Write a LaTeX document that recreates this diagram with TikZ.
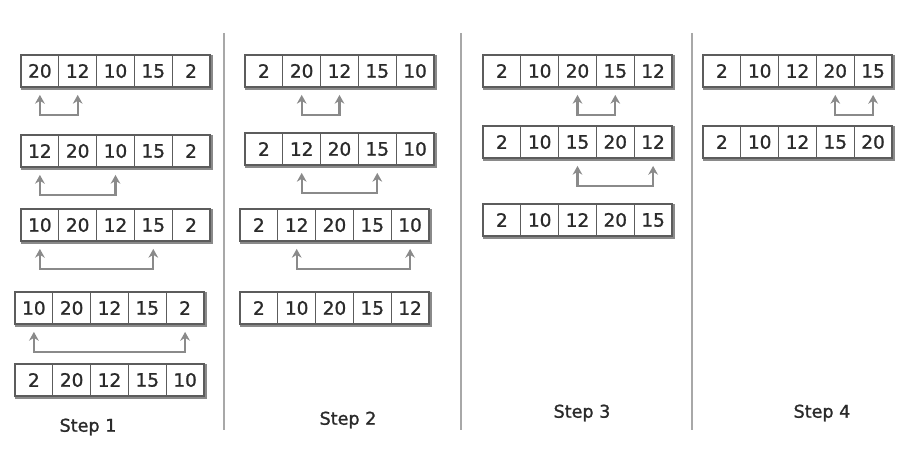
\documentclass[tikz,border=0pt]{standalone}
\usepackage{fontspec}
\setmainfont{DejaVu Sans}
\newfontfamily\cellfont[FakeBold=1.2]{DejaVu Sans}
\usetikzlibrary{arrows.meta}

\definecolor{cellline}{HTML}{5C5C5C}
\definecolor{rimgray}{HTML}{8A8A8A}
\definecolor{digitgray}{HTML}{2A2A2A}
\definecolor{swapgray}{HTML}{8A8A8A}
\definecolor{rulegray}{HTML}{A8A8A8}

% one row of five cells, top left corner at (#2,#3)
\newcommand{\cellrow}[4]{%
  \foreach \v [count=\i] in {#4}
    \node[cell] (#1-\i) at ({#2+(\i-0.5)*37.8},{#3+16}) {\v};
  \draw[rim] ([yshift=-1pt]#1-1.south west) -- ([xshift=1pt,yshift=-1pt]#1-5.south east)
    -- ([xshift=1pt]#1-5.north east);
}
% exchange bracket under two cells of a row
\newcommand{\swapcells}[3]{%
  \draw[swp] ([yshift=-4.5pt]#1-#2.south) -- ++(0,20) -| ([yshift=-4.5pt]#1-#3.south);
}

\begin{document}
\begin{tikzpicture}[x=0.02cm, y=-0.02cm,
    cell/.style={draw=cellline, fill=white, line width=0.6pt, minimum width=0.756cm,
      minimum height=0.64cm, inner sep=0pt, outer sep=0pt,
      font=\cellfont\fontsize{10.5}{12}\selectfont, text=digitgray},
    rim/.style={draw=rimgray, line width=1.2pt},
    swp/.style={{Stealth[length=5pt,width=5.5pt]}-{Stealth[length=5pt,width=5.5pt]}, draw=swapgray, line width=1.3pt},
    divider/.style={draw=rulegray, line width=1.2pt},
    steplabel/.style={font=\cellfont\fontsize{10}{12}\selectfont, text=digitgray},
  ]
  \useasboundingbox (0,0) rectangle (910,456);

  % step 1
  \cellrow{s1a}{21}{55}{20,12,10,15,2}
  \swapcells{s1a}{1}{2}
  \cellrow{s1b}{21}{135}{12,20,10,15,2}
  \swapcells{s1b}{1}{3}
  \cellrow{s1c}{21}{209}{10,20,12,15,2}
  \swapcells{s1c}{1}{4}
  \cellrow{s1d}{15}{292}{10,20,12,15,2}
  \swapcells{s1d}{1}{5}
  \cellrow{s1e}{15}{364}{2,20,12,15,10}
  \node[steplabel] (lab1) at (88,427) {Step 1};

  % step 2
  \cellrow{s2a}{245}{55}{2,20,12,15,10}
  \swapcells{s2a}{2}{3}
  \cellrow{s2b}{245}{133}{2,12,20,15,10}
  \swapcells{s2b}{2}{4}
  \cellrow{s2c}{240}{209}{2,12,20,15,10}
  \swapcells{s2c}{2}{5}
  \cellrow{s2d}{240}{292}{2,10,20,15,12}
  \node[steplabel] (lab2) at (348,420) {Step 2};

  % step 3
  \cellrow{s3a}{483}{55}{2,10,20,15,12}
  \swapcells{s3a}{3}{4}
  \cellrow{s3b}{483}{126}{2,10,15,20,12}
  \swapcells{s3b}{3}{5}
  \cellrow{s3c}{483}{204}{2,10,12,20,15}
  \node[steplabel] (lab3) at (582,413) {Step 3};

  % step 4
  \cellrow{s4a}{703}{55}{2,10,12,20,15}
  \swapcells{s4a}{4}{5}
  \cellrow{s4b}{703}{126}{2,10,12,15,20}
  \node[steplabel] (lab4) at (822,413) {Step 4};

  % column rules
  \coordinate (r1t) at (224,33);
  \coordinate (r1b) at (224,430);
  \coordinate (r2t) at (461,33);
  \coordinate (r2b) at (461,430);
  \coordinate (r3t) at (692,33);
  \coordinate (r3b) at (692,430);
  \draw[divider] (r1t) -- (r1b);
  \draw[divider] (r2t) -- (r2b);
  \draw[divider] (r3t) -- (r3b);
\end{tikzpicture}
\end{document}
